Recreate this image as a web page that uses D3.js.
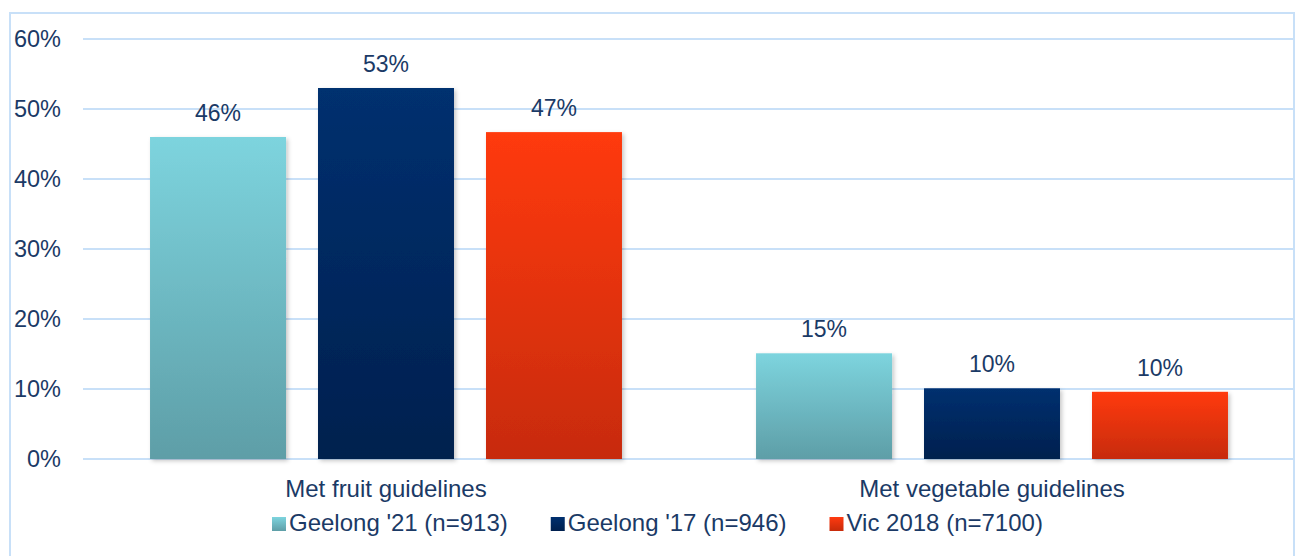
<!DOCTYPE html>
<html>
<head>
<meta charset="utf-8">
<script src="https://cdn.jsdelivr.net/npm/d3@7"></script>
<style>
  body { margin: 0; background: #fff; }
  text { font-family: "Liberation Sans", Arial, sans-serif; fill: #1b3a66; }
</style>
</head>
<body>
<script>
// chart data
var categories = ["Met fruit guidelines", "Met vegetable guidelines"];
var seriesNames = ["Geelong '21 (n=913)", "Geelong '17 (n=946)", "Vic 2018 (n=7100)"];
var geelong21 = [0.460, 0.151];
var geelong17 = [0.530, 0.101];
var vic2018 = [0.467, 0.096];
var yTicks = [0, 0.1, 0.2, 0.3, 0.4, 0.5, 0.6];

var seriesValues = [geelong21, geelong17, vic2018];
var gradients = [
    ["#7dd4de", "#5e9ea7"],
    ["#00306f", "#00204e"],
    ["#ff3a10", "#c72b0a"]
];

var svgWidth = 1295;
var svgHeight = 556;

var svg = d3.select("body")
    .append("svg")
    .attr("width", svgWidth)
    .attr("height", svgHeight);

var defs = svg.append("defs");

gradients.forEach(function(g, i) {
    var lg = defs.append("linearGradient")
        .attr("id", "grad" + i)
        .attr("x1", 0).attr("y1", 0)
        .attr("x2", 0).attr("y2", 1);
    lg.append("stop").attr("offset", "0%").attr("stop-color", g[0]);
    lg.append("stop").attr("offset", "100%").attr("stop-color", g[1]);
});

var shadow = defs.append("filter")
    .attr("id", "shadow")
    .attr("x", "-10%").attr("y", "-10%")
    .attr("width", "130%").attr("height", "130%");
shadow.append("feDropShadow")
    .attr("dx", 2).attr("dy", 2)
    .attr("stdDeviation", 2)
    .attr("flood-color", "#000")
    .attr("flood-opacity", 0.22);

// outer frame
svg.append("rect")
    .attr("x", 10)
    .attr("y", 13)
    .attr("width", 1284)
    .attr("height", 600)
    .attr("fill", "none")
    .attr("stroke", "#c8e0f8")
    .attr("stroke-width", 2);

var plotLeft = 83, plotRight = 1295;
var plotTop = 39, plotBottom = 459;

var x0 = d3.scaleBand()
    .domain(categories)
    .range([plotLeft, plotRight])
    .paddingInner(0)
    .paddingOuter(0);

var x1 = d3.scaleBand()
    .domain(d3.range(seriesNames.length))
    .range([0, x0.bandwidth()])
    .paddingInner(0.1905)
    .paddingOuter(0.399);

var y = d3.scaleLinear()
    .domain([0, 0.6])
    .range([plotBottom, plotTop]);

// gridlines
svg.append("g")
    .selectAll("line")
    .data(yTicks)
    .enter()
    .append("line")
    .attr("x1", plotLeft)
    .attr("x2", plotRight)
    .attr("y1", d => y(d))
    .attr("y2", d => y(d))
    .attr("stroke", "#c8e0f8")
    .attr("stroke-width", 2);

// y axis
var leftAxis = d3.axisLeft(y)
    .tickValues(yTicks)
    .tickFormat(d3.format(".0%"))
    .tickSize(0)
    .tickPadding(22);

var yAxis = svg.append("g")
    .attr("transform", `translate(${plotLeft}, 0)`)
    .call(leftAxis);
yAxis.select(".domain").remove();
yAxis.selectAll("text")
    .attr("font-size", 23.5)
    .attr("font-family", "Liberation Sans, Arial, sans-serif")
    .attr("fill", "#1b3a66");

// bars
var groups = svg.append("g")
    .selectAll("g")
    .data(categories)
    .enter()
    .append("g")
    .attr("transform", d => `translate(${x0(d)}, 0)`);

groups.each(function(cat, ci) {
    var g = d3.select(this);
    var rows = seriesValues.map((s, si) => ({ si: si, v: s[ci] }));

    g.selectAll("rect")
        .data(rows)
        .enter()
        .append("rect")
        .attr("x", d => x1(d.si))
        .attr("y", d => y(d.v))
        .attr("width", x1.bandwidth())
        .attr("height", d => y(0) - y(d.v))
        .attr("fill", d => `url(#grad${d.si})`)
        .attr("filter", "url(#shadow)");

    g.selectAll("text.value")
        .data(rows)
        .enter()
        .append("text")
        .attr("class", "value")
        .attr("x", d => x1(d.si) + x1.bandwidth() / 2)
        .attr("y", d => y(d.v) - 16)
        .attr("text-anchor", "middle")
        .attr("font-size", 23)
        .text(d => Math.round(d.v * 100) + "%");
});

// category labels
svg.append("g")
    .selectAll("text")
    .data(categories)
    .enter()
    .append("text")
    .attr("x", d => x0(d) + x0.bandwidth() / 2)
    .attr("y", 497)
    .attr("text-anchor", "middle")
    .attr("font-size", 24)
    .text(d => d);

// legend
var legend = svg.append("g");
var lx = 272;
seriesNames.forEach(function(name, i) {
    legend.append("rect")
        .attr("x", lx)
        .attr("y", 517)
        .attr("width", 14)
        .attr("height", 14)
        .attr("fill", `url(#grad${i})`);
    var t = legend.append("text")
        .attr("x", lx + 17)
        .attr("y", 531)
        .attr("font-size", 24)
        .text(name);
    lx = lx + 17 + t.node().getComputedTextLength() + 43;
});
</script>
</body>
</html>
